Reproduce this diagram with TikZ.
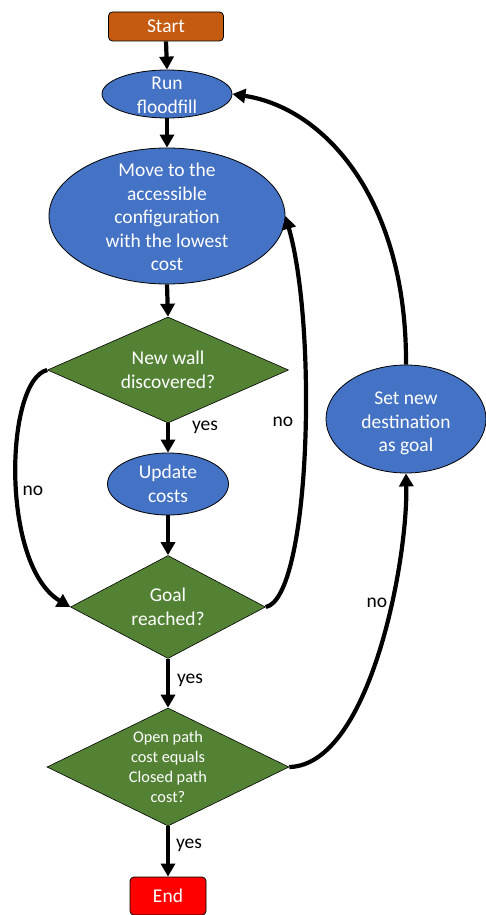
\documentclass[tikz,border=0pt]{standalone}
\usepackage{fontspec}
\setmainfont{Carlito}
\usetikzlibrary{shapes.geometric,arrows.meta}

\definecolor{procblue}{HTML}{4472C4}
\definecolor{decgreen}{HTML}{548235}
\definecolor{startorange}{HTML}{C55A11}
\definecolor{endred}{HTML}{FF0000}

\tikzset{
  intext/.style={align=center, text=white, inner sep=0pt,
    font=\fontsize{19.5}{23.5}\selectfont},
  smalltext/.style={align=center, text=white, inner sep=0pt,
    font=\fontsize{16.3}{20}\selectfont},
  terminal/.style={draw=black, line width=0.8pt, rounded corners=4pt,
    inner sep=0pt, text=white, font=\fontsize{19.5}{23.5}\selectfont},
  proc/.style={ellipse, draw=black, line width=0.8pt, fill=procblue,
    inner sep=0pt},
  decision/.style={diamond, draw=black, line width=0.6pt, fill=decgreen,
    inner sep=0pt},
  flow/.style={line width=4.2pt, -{Triangle[length=13pt,width=14pt]}},
  edgelabel/.style={font=\fontsize{19.5}{23}\selectfont, text=black, inner sep=0pt}
}

\begin{document}
\begin{tikzpicture}[x=1pt,y=-1pt]
\useasboundingbox (0,0) rectangle (485,915);

% terminals
\node[terminal, fill=startorange, minimum width=115, minimum height=29] (start) at (166,26.5) {Start};
\node[terminal, fill=endred, minimum width=76, minimum height=38] (finish) at (168,896) {End};

% process steps
\node[proc, minimum width=130, minimum height=48,
  label={[intext, yshift=-1.5pt]center:Run\\floodfill}] (run) at (167,94) {};
\node[proc, minimum width=236, minimum height=136,
  label={[intext, yshift=-1pt]center:Move to the\\accessible\\configuration\\with the lowest\\cost}] (move) at (167,216) {};
\node[proc, minimum width=121, minimum height=62,
  label={[intext]center:Update\\costs}] (upd) at (168,484) {};
\node[proc, minimum width=160, minimum height=108,
  label={[intext, yshift=-4.5pt]center:Set new\\destination\\as goal}] (newgoal) at (406,419) {};

% decisions
\node[decision, minimum width=241, minimum height=106,
  label={[intext]center:New wall\\discovered?}] (wall) at (168,370) {};
\node[decision, minimum width=195, minimum height=103,
  label={[intext]center:Goal\\reached?}] (goal) at (168,607) {};
\node[decision, minimum width=242, minimum height=118,
  label={[smalltext]center:Open path\\cost equals\\Closed path\\cost?}] (open) at (168,767) {};

% main line
\draw[flow] (start.south) -- (run.north);
\draw[flow] (run.south) -- (move.north);
\draw[flow] (move.south) -- (wall.north);
\draw[flow] (wall.south) -- (upd.north);
\draw[flow] (upd.south) -- (goal.north);
\draw[flow] (goal.south) -- (open.north);
\draw[flow] (open.south) -- (finish.north);

% loops
\draw[flow] (wall.west) .. controls (5,380) and (0,565) .. (goal.west);
\draw[flow] (goal.east) .. controls (310,598) and (318,330) .. (move.east);
\draw[flow] (open.east) .. controls (370,765) and (408,560) .. (newgoal.south);
\draw[flow] (newgoal.north) .. controls (407,200) and (325,108) .. (run.east);

% labels
\node[edgelabel] (ly1) at (205,427) {yes};
\node[edgelabel] (ly2) at (190,680) {yes};
\node[edgelabel] (ly3) at (189,845) {yes};
\node[edgelabel] (ln1) at (33,491) {no};
\node[edgelabel] (ln2) at (283,422) {no};
\node[edgelabel] (ln3) at (377,603) {no};
\end{tikzpicture}
\end{document}
